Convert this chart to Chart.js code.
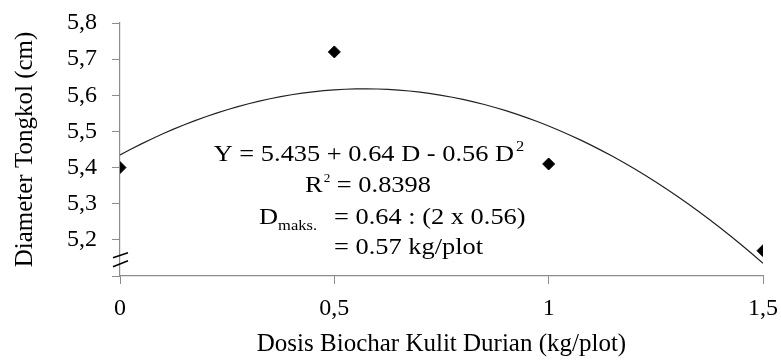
<!DOCTYPE html>
<html>
<head>
<meta charset="utf-8">
<script src="https://cdn.jsdelivr.net/npm/chart.js@4/dist/chart.umd.min.js"></script>
<style>
html, body { margin: 0; padding: 0; background: #fff; }
#wrap { width: 781px; height: 361px; }
</style>
</head>
<body>
<div id="wrap"><canvas id="myChart"></canvas></div>
<script>
// dose of durian peel biochar (kg/plot) and cob diameter (cm)
const dosis = [0, 0.5, 1, 1.5];
const diameter = [5.40, 5.72, 5.41, 5.17];
// quadratic fit Y = a + bD + cD^2
const coef = [5.435, 0.64, -0.56];
const xTicks = [0, 0.5, 1, 1.5];
const yMin = 5.1;
const yMax = 5.8;

const serif = '"Liberation Serif", "Times New Roman", serif';
const axisGray = '#8c8c8c';
const stretch = 1.1;

let points = [];
for (let i = 0; i < dosis.length; i++) {
    points.push({x: dosis[i], y: diameter[i]});
}

let curve = [];
for (let d = 0; d <= 1.5001; d += 0.025) {
    curve.push({x: d, y: coef[0] + coef[1] * d + coef[2] * d * d});
}

function comma(v) {
    return String(v).replace('.', ',');
}

// text drawn a bit wider than the font's own width
function wideText(ctx, text, x, y) {
    ctx.save();
    ctx.translate(x, y);
    ctx.scale(stretch, 1);
    ctx.fillText(text, 0, 0);
    ctx.restore();
    return ctx.measureText(text).width * stretch;
}

function wideWidth(ctx, text) {
    return ctx.measureText(text).width * stretch;
}

// regression text + the broken-axis marks
const annotate = {
    id: 'annotate',
    afterDraw(chart) {
        const ctx = chart.ctx;
        const ca = chart.chartArea;
        const yScale = chart.scales.y;
        ctx.save();
        ctx.fillStyle = '#000';
        ctx.textBaseline = 'alphabetic';
        ctx.textAlign = 'left';

        const big = '24px ' + serif;
        const sup = '15px ' + serif;
        const tiny = '12px ' + serif;

        // Y = 5.435 + 0.64 D - 0.56 D^2
        const main = 'Y = 5.435 + 0.64 D - 0.56 D';
        ctx.font = big;
        const w1 = wideWidth(ctx, main);
        ctx.font = sup;
        const w2 = wideWidth(ctx, '2');
        let x0 = 369 - (w1 + w2 + 2) / 2;
        ctx.font = big;
        wideText(ctx, main, x0, 161);
        ctx.font = sup;
        wideText(ctx, '2', x0 + w1 + 2, 151);

        // R^2 = 0.8398
        ctx.font = big;
        const rw = wideWidth(ctx, 'R');
        const restW = wideWidth(ctx, ' = 0.8398');
        ctx.font = tiny;
        const sw = wideWidth(ctx, '2');
        x0 = 368 - (rw + sw + 1 + restW) / 2;
        ctx.font = big;
        wideText(ctx, 'R', x0, 192);
        ctx.font = tiny;
        wideText(ctx, '2', x0 + rw + 1, 182);
        ctx.font = big;
        wideText(ctx, ' = 0.8398', x0 + rw + sw + 1, 192);

        // D maks.
        const dw = wideText(ctx, 'D', 259, 224);
        ctx.font = sup;
        wideText(ctx, 'maks.', 259 + dw, 230);
        ctx.font = big;
        wideText(ctx, '= 0.64 : (2 x 0.56)', 334, 224);
        wideText(ctx, '= 0.57 kg/plot', 334, 254);

        // axis break
        const ax = ca.left;
        const yb = yScale.getPixelForValue(5.145);
        ctx.strokeStyle = '#000';
        ctx.lineWidth = 1.5;
        ctx.beginPath();
        ctx.moveTo(ax - 7, yb - 2);
        ctx.lineTo(ax + 8, yb - 7);
        ctx.moveTo(ax - 7, yb + 7);
        ctx.lineTo(ax + 8, yb + 1);
        ctx.stroke();
        ctx.restore();
    }
};

const data = {
    datasets: [{
        label: 'Diameter',
        data: points,
        pointStyle: 'rectRot',
        pointRadius: 6,
        pointBackgroundColor: '#000',
        pointBorderColor: '#000',
        pointBorderWidth: 1,
        showLine: false,
        order: 0
    }, {
        label: 'Kurva',
        data: curve,
        showLine: true,
        borderColor: '#222',
        borderWidth: 1.2,
        pointRadius: 0,
        tension: 0,
        order: 1
    }]
};

const config = {
    type: 'scatter',
    data: data,
    options: {
        responsive: true,
        maintainAspectRatio: false,
        animation: false,
        layout: {
            padding: {top: 23, right: 18, left: 0, bottom: 0}
        },
        plugins: {
            legend: {display: false},
            tooltip: {enabled: false}
        },
        scales: {
            x: {
                type: 'linear',
                min: 0,
                max: 1.5,
                afterBuildTicks: (scale) => {
                    scale.ticks = xTicks.map(v => ({value: v}));
                },
                afterFit: (scale) => {
                    scale.height = 85;
                    scale.paddingLeft = 0;
                    scale.paddingRight = 0;
                },
                grid: {drawOnChartArea: false, tickLength: 8, color: axisGray},
                border: {color: axisGray, width: 1.2},
                ticks: {
                    color: '#000',
                    padding: 10,
                    maxRotation: 0,
                    font: {family: serif, size: 24},
                    callback: (v) => comma(v)
                },
                title: {
                    display: true,
                    text: 'Dosis Biochar Kulit Durian (kg/plot)',
                    color: '#000',
                    font: {family: serif, size: 25},
                    padding: {top: 0, bottom: 2}
                }
            },
            y: {
                min: yMin,
                max: yMax,
                afterFit: (scale) => {
                    scale.width = 120;
                    scale.paddingTop = 0;
                    scale.paddingBottom = 0;
                },
                grid: {drawOnChartArea: false, tickLength: 8, color: axisGray},
                border: {color: axisGray, width: 1.2},
                ticks: {
                    stepSize: 0.1,
                    color: '#000',
                    padding: 15,
                    font: {family: serif, size: 24},
                    callback: (v) => v < 5.15 ? '' : comma(v.toFixed(1))
                },
                title: {
                    display: true,
                    text: 'Diameter Tongkol (cm)',
                    color: '#000',
                    font: {family: serif, size: 25},
                    padding: {top: 10, bottom: 0}
                }
            }
        }
    },
    plugins: [annotate]
};

var myChart = new Chart(document.getElementById('myChart'), config);
</script>
</body>
</html>
